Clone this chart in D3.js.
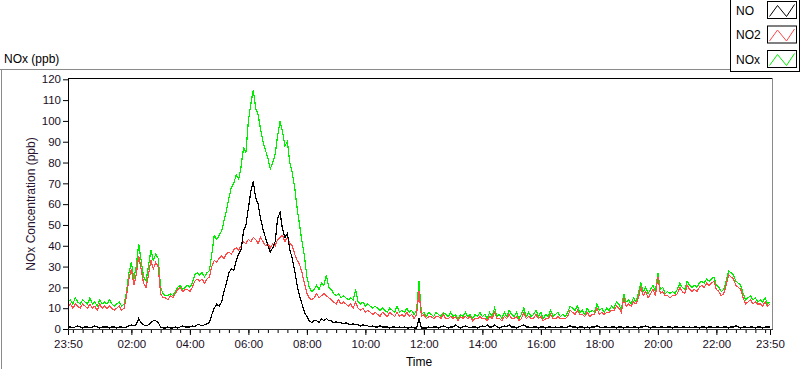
<!DOCTYPE html>
<html><head><meta charset="utf-8">
<script src="https://cdn.jsdelivr.net/npm/d3@7"></script>
<style>
html,body{margin:0;padding:0;background:#fff;}
svg{display:block;}
text{font-family:"Liberation Sans",Arial,sans-serif;}
</style></head>
<body><svg id="chart" width="800" height="369"></svg>
<script>
// ---- data (5-minute samples starting 23:50) ----
const startTime = [23, 50];
const stepMinutes = 5;
const seriesNames = ["NO", "NO2", "NOx"];
const yTicks = [0,10,20,30,40,50,60,70,80,90,100,110,120];
const xTickLabels = ["23:50","02:00","04:00","06:00","08:00","10:00","12:00","14:00","16:00","18:00","20:00","22:00","23:50"];

const noxValues = [
13,14,12,15,13,12,14,13,12,15,12,13,
11,14,12,13,12,14,12,11,12,13,11,12,
18,27,32,24,30,41,33,25,23,30,38,33,
36,34,20,17,16,16,17,16,18,20,21,19,
20,21,20,22,26,27,26,27,25,27,28,36,
45,43,45,47,52,57,63,68,70,74,72,78,
87,85,100,108,115,106,103,96,90,86,82,77,
80,84,93,100,95,88,90,80,75,68,58,50,
42,35,25,20,18,19,21,19,22,21,26,20,
19,17,16,17,15,16,15,14,15,14,19,13,
12,13,11,12,11,10,11,10,9,10,9,8,
10,9,8,11,8,9,8,10,8,9,7,9,
23,7,8,6,8,7,6,8,7,6,8,7,
6,8,6,7,5,7,6,8,6,7,5,7,
6,8,6,7,5,8,6,10,6,7,5,8,
6,9,7,6,8,5,7,10,6,8,6,7,
9,6,8,5,7,6,9,6,7,8,6,7,
6,8,11,10,9,11,8,9,7,10,8,9,
8,12,9,10,8,10,9,11,10,13,12,9,
17,13,14,12,15,13,17,22,18,20,17,19,
21,18,27,19,20,17,18,17,18,17,19,22,
20,19,23,21,20,21,20,22,23,22,24,23,
24,25,21,20,18,19,23,28,27,26,23,22,
21,17,14,15,16,14,15,13,14,13,15,12,
13];

const no2Values = [
11,12,10,12,11,10,12,11,10,12,10,11,
9,12,10,11,10,11,10,9,10,11,9,10,
16,24,29,21,26,35,29,22,20,26,33,29,
32,30,17,15,15,14,16,15,17,19,20,18,
19,19,18,20,23,24,23,24,22,24,25,30,
33,32,34,35,34,36,37,36,38,39,38,40,
42,41,43,42,44,43,41,44,42,40,41,39,
41,40,43,44,45,42,44,41,40,36,33,31,
27,22,17,15,14,15,17,15,16,17,16,15,
14,13,12,14,12,13,12,11,12,10,13,10,
9,10,8,9,8,7,8,7,6,8,7,6,
8,7,6,8,6,7,6,8,6,7,5,7,
18,6,7,5,6,6,5,6,6,5,7,5,
5,6,5,6,4,6,5,6,5,6,4,5,
5,6,5,5,4,6,5,8,5,5,4,6,
5,7,5,5,6,4,5,8,5,6,5,5,
7,5,6,4,5,5,7,5,5,6,5,5,
5,6,9,8,7,9,7,7,6,8,6,7,
7,10,7,8,7,8,8,9,9,11,10,8,
15,11,12,11,13,12,15,20,16,18,15,17,
19,16,25,17,18,16,16,15,16,16,17,20,
18,17,21,19,18,19,18,20,21,20,22,21,
22,23,19,18,16,17,21,26,25,24,21,20,
19,15,12,13,14,12,13,12,12,11,13,11,
12];

const noValues = [
1,1,0.5,1,1.5,1,0.5,1,1,0.5,1,1.5,
1,0.5,1,1,1,0.5,1,1,0.5,1,1,0.5,
1,1.5,2,1.5,2,5,3,2,1.5,2,3,4,
4,3,1,0.5,0.5,1,0.5,0.5,1,0.5,1,1.5,
1,1,1,1.5,1,2,2,1.5,2,2.5,3,7,
10,12,11,13,18,22,27,29,28,33,36,38,
47,50,58,66,71,63,60,53,48,44,40,37,
39,42,53,56,48,44,46,38,34,28,21,16,
12,8,6,4,3,4,4,3,5,4,5,4,
4,3,3.5,3,3,2.5,3,2.5,2,2.5,2,2,
1.5,2,1.5,1.5,1,1.5,1,1,1.5,1,1,1,
0.5,1,1,0.5,1,0.5,1,0.5,0.5,1,0.5,0.5,
5,0.5,0.5,0.5,1,0.5,1,1,0.5,1,1.5,1,
0.5,1,1,2,1,0.5,1,1.5,1,0.5,1,1,
0.5,1,1.5,1,2,1,1,2,1,0.5,1,1.5,
1,2,1,1,0.5,1,1.5,2,1,1,0.5,1,
1,0.5,1,1,0.5,1,1,0.5,1,0.5,1,1,
0.5,1,1.5,1,1,0.5,1,1,0.5,1,0.5,1,
1,1.5,1,0.5,1,1,0.5,1,1,0.5,1,1,
0.5,1,1,0.5,1,1,0.5,1,1,1.5,1,0.5,
1,1,0.5,1,1,0.5,1,1,0.5,1,1,0.5,
1,1,0.5,1,0.5,1,1,0.5,1,1,0.5,1,
1,0.5,1,1,0.5,1,1,0.5,1,1,1.5,1,
0.5,1,1,0.5,1,1,0.5,1,1,0.5,1,1,
1];

// ---- build ----
const svg = d3.select("#chart");
const start = new Date(2020, 0, 1, startTime[0], startTime[1]);
const end = new Date(start.getTime() + (noValues.length - 1) * stepMinutes * 60000);
const timeAt = i => new Date(start.getTime() + i * stepMinutes * 60000);

const plot = {left: 68, right: 772, top: 78, bottom: 329};
const x = d3.scaleTime().domain([start, end]).range([68, 770]);
const y = d3.scaleLinear().domain([0, 120]).range([329, 79.3]);

// outer frame
svg.append("line").attr("x1",0).attr("x2",731).attr("y1",69.5).attr("y2",69.5).attr("stroke","#8a8a8a");
svg.append("line").attr("x1",1.5).attr("x2",1.5).attr("y1",69.5).attr("y2",369).attr("stroke","#8a8a8a");

// top-left title
svg.append("text").attr("x",4).attr("y",63).attr("font-size",12).attr("fill","#000").text("NOx (ppb)");

// plot area
svg.append("rect").attr("x",plot.left).attr("y",plot.top).attr("width",plot.right-plot.left).attr("height",plot.bottom-plot.top).attr("fill","#fff");

// series
const parse = d3.timeParse("%H:%M");
const mk = vals => vals.map((v,i)=>({t: timeAt(i), v}));
const line = d3.line().x(d=>x(d.t)).y(d=>y(d.v));
const series = [
  {name:"NOx", vals:noxValues, color:"#00ee00"},
  {name:"NO2", vals:no2Values, color:"#ff4a4a"},
  {name:"NO",  vals:noValues,  color:"#000000"}
];
const g = svg.append("g");
series.forEach(s=>{
  g.append("path").datum(mk(s.vals)).attr("d",line).attr("fill","none")
   .attr("stroke",s.color).attr("stroke-width",1.2).attr("stroke-linejoin","miter")
   .attr("shape-rendering","crispEdges");
});

// frame borders
svg.append("line").attr("x1",plot.left).attr("x2",plot.right).attr("y1",plot.top+0.5).attr("y2",plot.top+0.5).attr("stroke","#000");
svg.append("line").attr("x1",plot.left+0.5).attr("x2",plot.left+0.5).attr("y1",plot.top).attr("y2",plot.bottom).attr("stroke","#000");
svg.append("line").attr("x1",plot.right+0.5).attr("x2",plot.right+0.5).attr("y1",plot.top).attr("y2",plot.bottom+1).attr("stroke","#8a8a8a");
svg.append("line").attr("x1",plot.left).attr("x2",plot.right+1).attr("y1",plot.bottom+0.5).attr("y2",plot.bottom+0.5).attr("stroke","#333");

// y axis
const yAx = svg.append("g").attr("transform",`translate(${plot.left},0)`)
  .call(d3.axisLeft(y).tickValues(yTicks).tickSize(5).tickPadding(2));
yAx.select(".domain").remove();
yAx.selectAll("text").attr("font-size",11.5).attr("font-family","Liberation Sans, Arial, sans-serif").attr("fill","#1a0f1f");

// x axis major
const xTickTimes = xTickLabels.map((lab,i)=>{
  if (i===0) return start;
  if (i===xTickLabels.length-1) return end;
  const p = parse(lab);
  return new Date(2020,0,2,p.getHours(),p.getMinutes());
});
const xAx = svg.append("g").attr("transform",`translate(0,${plot.bottom+1})`)
  .call(d3.axisBottom(x).tickValues(xTickTimes).tickSize(5).tickPadding(5)
    .tickFormat((d,i)=>xTickLabels[i]));
xAx.select(".domain").remove();
xAx.selectAll("text").attr("font-size",11.5).attr("font-family","Liberation Sans, Arial, sans-serif").attr("fill","#1a0f1f");

// x axis minor (every 20 minutes)
const minorTimes = d3.timeMinute.every(20).range(start, end);
const xMin = svg.append("g").attr("transform",`translate(0,${plot.bottom+1})`)
  .call(d3.axisBottom(x).tickValues(minorTimes).tickSize(3).tickFormat(""));
xMin.select(".domain").remove();

// axis titles
svg.append("text").attr("x",419).attr("y",366).attr("text-anchor","middle").attr("font-size",12).attr("fill","#000").text("Time");
svg.append("text").attr("transform","translate(35,204) rotate(-90)").attr("text-anchor","middle")
  .attr("font-size",12).attr("fill","#2a1530").text("NOx Concentration (ppb)");

// legend
const lg = svg.append("g");
lg.append("rect").attr("x",730.5).attr("y",-1).attr("width",69).attr("height",72.5).attr("fill","#fff").attr("stroke","#000");
const legendItems = [
  {name:"NO",  color:"#000000", y:1},
  {name:"NO2", color:"#ff4a4a", y:25.5},
  {name:"NOx", color:"#00ee00", y:50}
];
legendItems.forEach(it=>{
  lg.append("text").attr("x",736).attr("y",it.y+13.5).attr("font-size",12).attr("fill","#000").text(it.name);
  lg.append("rect").attr("x",767.5).attr("y",it.y+0.5).attr("width",29).attr("height",17).attr("fill","#fff").attr("stroke","#000");
  const x0 = 767.5, y0 = it.y+0.5;
  lg.append("path").attr("d",`M${x0+2},${y0+15} L${x0+10},${y0+4} L${x0+19},${y0+15} L${x0+27},${y0+3}`)
    .attr("fill","none").attr("stroke",it.color).attr("stroke-width",1);
});
</script></body></html>
